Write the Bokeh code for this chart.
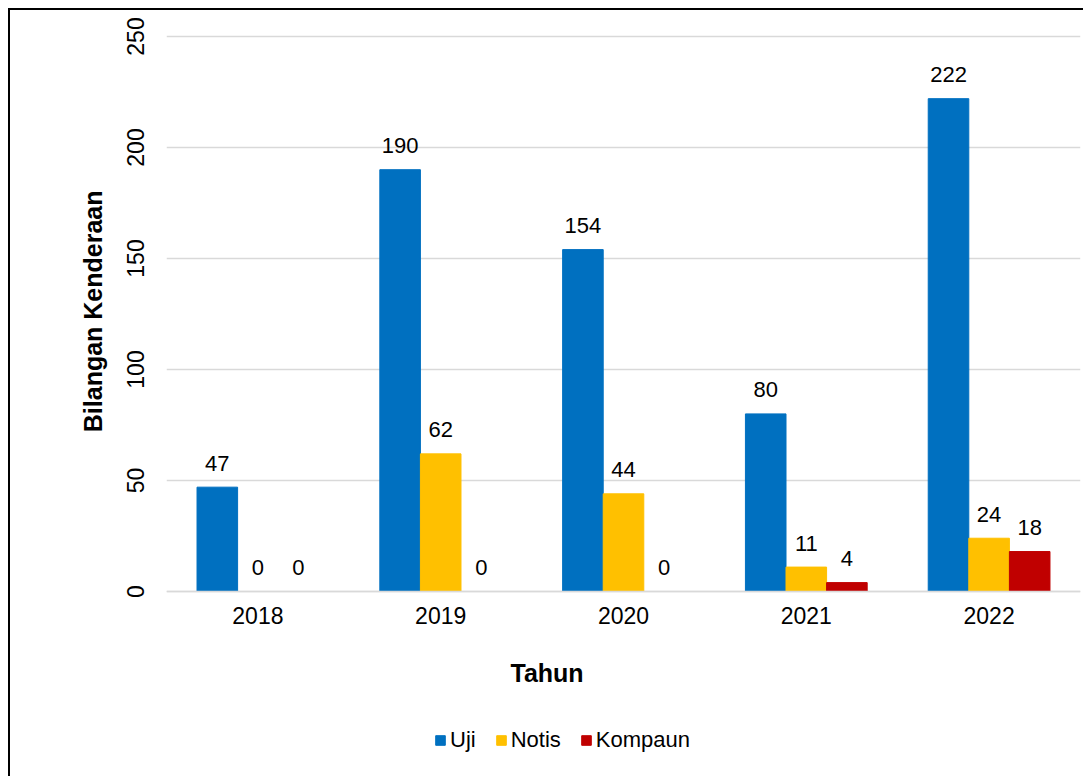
import math
from bokeh.plotting import figure
from bokeh.models import ColumnDataSource, Legend, LegendItem, Title, Label, Range1d
from bokeh.transform import dodge
from bokeh.core.properties import value
from bokeh.embed import file_html
from bokeh.resources import INLINE

years = ["2018", "2019", "2020", "2021", "2022"]
uji = [47, 190, 154, 80, 222]
notis = [0, 62, 44, 11, 24]
kompaun = [0, 0, 0, 4, 18]
series_names = ["Uji", "Notis", "Kompaun"]
colors = ["#0070C0", "#FFC000", "#C00000"]
y_ticks = [0, 50, 100, 150, 200, 250]
y_title = "Bilangan Kenderaan"
x_title = "Tahun"

FONT = "Liberation Sans"

data = dict(years=years, Uji=uji, Notis=notis, Kompaun=kompaun)
for name, vals in (("Uji", uji), ("Notis", notis), ("Kompaun", kompaun)):
    data[name + "_lbl"] = [str(v) for v in vals]
src = ColumnDataSource(data)

# frame reaches down to the bottom of the canvas so the legend and the
# x title can be drawn inside it; the value axis still runs 0..250
PX_PER_UNIT = 555 / 250.0
below_px = 187
top_px = 2
p = figure(x_range=years,
           y_range=Range1d(-below_px / PX_PER_UNIT, 250 + top_px / PX_PER_UNIT),
           width=1075, height=768,
           output_backend="svg", toolbar_location=None,
           min_border_left=156, min_border_right=5, min_border_top=26 - top_px,
           min_border_bottom=0)
p.styles = {"margin-left": "8px", "margin-top": "8px",
            "border-left": "2px solid black", "border-top": "2px solid black"}
p.outline_line_color = None
p.background_fill_color = "white"
p.border_fill_color = "white"

bw = 0.222
offsets = [-bw, 0.0, bw]
renderers = []
for name, off, col in zip(series_names, offsets, colors):
    r = p.vbar(x=dodge("years", off, range=p.x_range), top=name, width=bw,
               source=src, fill_color=col, line_color=col)
    renderers.append(r)
    p.text(x=dodge("years", off, range=p.x_range), y=name, text=name + "_lbl",
           source=src, text_align="center", text_baseline="alphabetic",
           y_offset=-24, text_font=value(FONT), text_font_size="22px",
           text_color="black")

# grid
p.xgrid.grid_line_color = None
p.ygrid.ticker = y_ticks
p.ygrid.grid_line_color = "#D9D9D9"
p.ygrid.grid_line_width = 1.3

# x axis at value 0
xa = p.xaxis[0]
xa.fixed_location = 0
xa.axis_line_color = "#D9D9D9"
xa.axis_line_width = 1.3
xa.major_tick_line_color = None
xa.minor_tick_line_color = None
xa.major_label_text_font = FONT
xa.major_label_text_font_size = "23px"
xa.major_label_text_color = "black"
xa.major_label_standoff = 9

# y axis
ya = p.yaxis[0]
ya.ticker = y_ticks
ya.axis_line_color = None
ya.major_tick_line_color = None
ya.minor_tick_line_color = None
ya.major_label_orientation = "vertical"
ya.major_label_text_font = FONT
ya.major_label_text_font_size = "23px"
ya.major_label_text_color = "black"
ya.major_label_standoff = 17

yt = Title(text=y_title, align="right", offset=154 + top_px, standoff=33,
           text_font=FONT, text_font_size="25px", text_font_style="bold",
           text_color="black")
p.add_layout(yt, "left")

# x title
p.add_layout(Label(x=344, y=106, x_units="screen", y_units="screen", text=x_title,
                   text_align="left", text_baseline="middle",
                   text_font=FONT, text_font_size="25px", text_font_style="bold",
                   text_color="black"))

legend = Legend(items=[LegendItem(label=n, renderers=[r]) for n, r in zip(series_names, renderers)],
                orientation="horizontal", location=(268, 25), padding=0, margin=0,
                border_line_color=None, background_fill_alpha=0,
                glyph_width=12, glyph_height=12, label_standoff=4, spacing=19,
                label_text_font=FONT, label_text_font_size="22px", label_text_color="black")
p.add_layout(legend, "center")

open("out.html", "w").write(file_html(p, INLINE))
